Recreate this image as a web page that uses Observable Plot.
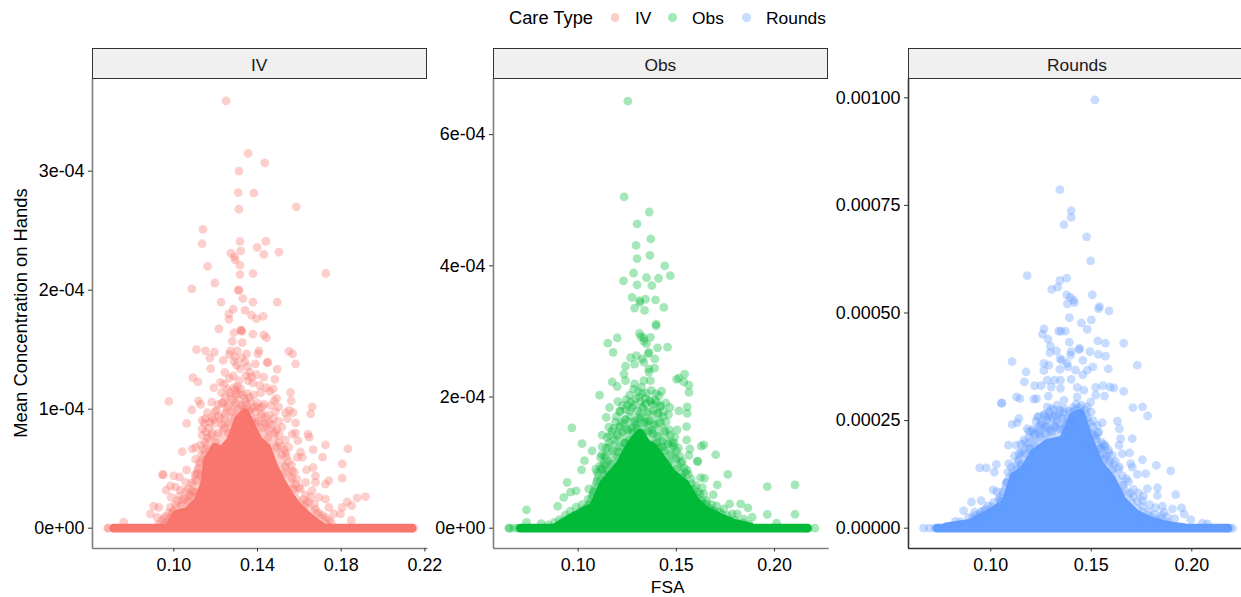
<!DOCTYPE html>
<html>
<head>
<meta charset="utf-8">
<script src="https://cdn.jsdelivr.net/npm/d3@7"></script>
<script src="https://cdn.jsdelivr.net/npm/@observablehq/plot@0.6"></script>
<style>
html,body{margin:0;padding:0;background:#fff;overflow:hidden}
#page{position:relative;width:1241px;height:597px;overflow:hidden;font-family:"Liberation Sans",Arial,sans-serif;color:#000}
#page svg{position:absolute;top:79px;overflow:visible;background:transparent;max-width:none}
.abs{position:absolute;white-space:nowrap;font-size:17.4px;line-height:20px}
.strip{position:absolute;top:48px;height:29px;background:#f0f0f0;border:1.5px solid #333;text-align:center;font-size:17.4px;line-height:33px;color:#1a1a1a;box-sizing:content-box}
.key{position:absolute;width:8.8px;height:8.8px;border-radius:50%;top:13px;opacity:.35}
</style>
</head>
<body>
<div id="page"></div>
<script>
const categories = ["IV", "Obs", "Rounds"];
const colours = ["#F8766D", "#00BA38", "#619CFF"];
const legendTitle = "Care Type";
const xLabel = "FSA";
const yLabel = "Mean Concentration on Hands";

// Concentrations below are in units of 1e-4.
const ivPoints = [[.125,3.59],[.1355,3.15],[.1435,3.07],[.1311,3.00],[.1308,2.82],[.1382,2.815],[.1311,2.68],[.1585,2.70],[.1139,2.51],[.1135,2.39],[.1316,2.41],[.144,2.41],[.1398,2.36],[.132,2.33],[.1502,2.32],[.1273,2.31],[.143,2.30],[.129,2.28],[.1293,2.255],[.1316,2.21],[.1161,2.20],[.1316,2.13],[.1378,2.14],[.1727,2.14],[.1196,2.06],[.1086,2.01],[.1308,2.0],[.1311,2.0],[.133,1.93],[.1378,1.90],[.1226,1.90],[.1494,1.90],
[.1284,1.84],[.134,1.83],[.1263,1.80],[.1263,1.755],[.1371,1.79],[.1395,1.76],[.1427,1.78],[.1215,1.675],[.1322,1.66],[.1320,1.665],[.1325,1.655],[.1287,1.64],[.1378,1.63],[.143,1.625],[.1443,1.60],[.1279,1.57],[.1327,1.56],[.1108,1.50],[.1151,1.49],[.1194,1.48],[.1271,1.49],[.1303,1.49],[.1348,1.465],[.1407,1.49],[.1402,1.465],[.155,1.485],[.1568,1.465],[.1582,1.38],[.1172,1.43],[.1236,1.41],[.1292,1.44],[.1325,1.43],[.1449,1.395],[.1446,1.39],[.139,1.38],[.1176,1.34],[.1494,1.335],[.1244,1.31],[.1363,1.31],[.1345,1.28],[.1091,1.265],[.1115,1.23],[.1191,1.18],[.1223,1.225],[.1355,1.24],[.1483,1.25],[.1430,1.27],[.1558,1.14],[.1118,1.07],[.0976,1.065],[.1128,1.04],[.1086,.995],[.1561,1.07],[.1491,1.09],[.1661,1.02],[.1654,.96],[.1552,.99],[.1570,.97],[.1542,.92],[.1061,.88],[.1135,.905],[.1147,.88],[.1135,.835],[.1135,.78],[.1582,.885],[.1566,.79],[.1582,.80],[.1593,.735],[.1641,.79],[.1647,.765],[.1725,.70],[.1666,.66],[.1711,.597],[.1832,.667],[.1805,.54],[.1606,.64],[.1614,.595],[.1534,.63],[.159,.595],[.104,.644],[.1088,.667],[.1104,.68],[.1104,.58],[.1061,.49],[.0946,.45],[.0949,.45],[.10,.44],[.1027,.43],[.1634,.49],[.1666,.51],[.1677,.44],[.1741,.40],[.1725,.37],[.1805,.42],[.163,.385],[.1677,.385],[.1566,.48],[.1582,.37],[.0963,.32],[.0984,.355],[.1008,.345],[.1032,.32],[.1056,.385],[.1072,.275],[.1876,.255],[.1916,.266],[.1829,.22],[.185,.19],[.1805,.175],[.1797,.12],[.1848,.065],[.1725,.245],[.1693,.26],[.1661,.315],[.1765,.12],[.1741,.175],[.0904,.185],[.0928,.175],[.0888,.12],[.092,.09],[.0952,.08],[.0984,.175],[.0987,.26],[.1016,.23],[.076,.05],[.0684,0],[.0688,0],[.0713,0],
[.1255,1.17],[.1287,1.18],[.1303,1.19],[.1319,1.17],[.1351,1.13],[.1383,1.12],[.1415,1.14],[.1245,1.10],[.1271,1.11],[.1297,1.12],[.1335,1.09],[.1367,1.06],[.1399,1.05],[.1431,1.04],[.1463,1.03],[.1479,1.07],[.1213,1.04],[.1229,1.05],[.1261,1.04],[.1293,1.05],[.1325,1.03],[.1357,.99],[.1389,.98],[.1421,.96],[.1453,.95],[.1485,.98],[.1197,.98],[.1181,.93],[.1213,.94],[.1245,.96],[.1277,.98],[.1165,.84],[.1197,.88],[.1229,.87],[.1261,.89],[.1293,.93],[.1373,.91],[.1405,.90],[.1437,.88],[.1469,.87],[.1501,.90],[.1533,.97],[.1517,.85],[.1485,.80],[.1453,.82],[.1421,.84],[.1149,.72],[.1181,.78],[.1213,.80],[.1245,.84],[.1501,.72],[.1533,.74],[.1549,.68],[.1517,.62],[.1133,.62],[.1149,.57],[.1117,.50],[.1101,.45],[.1085,.38],[.1069,.33],[.1053,.25],[.1037,.19],[.1533,.52],[.1565,.42],[.1597,.34],[.1629,.28],[.1645,.22],[.1677,.16],[.1709,.11],[.1741,.07],[.1021,.12],[.0989,.09],[.0957,.04],[.0925,.03],
[.1265,1.46],[.1288,1.40],[.1301,1.37],[.1317,1.34],[.1339,1.40],[.1352,1.36],[.1371,1.27],[.1378,1.22],[.1395,1.29],[.1265,1.26],[.1284,1.28],[.1311,1.24],[.1240,1.21],[.1228,1.14],[.1411,1.20],[.1442,1.18],[.1459,1.15],[.1475,1.17],[.1500,1.02],[.1181,1.06],[.1160,.97],[.1150,.92],
[.1088,.27],[.1095,.31],[.1108,.40],[.1112,.46],[.1122,.55],[.1128,.70],[.1141,.66],[.1153,.81],[.1160,.76],[.1172,.89],[.1188,.91],[.1205,.99],[.1222,.92],[.1238,1.06],[.1252,1.02],[.1268,1.14],[.1280,1.08],[.1295,1.16],[.1312,1.13],[.1328,1.12],[.1342,1.06],[.1362,1.10],[.1376,1.01],[.1392,1.02],[.1408,1.01],[.1424,1.02],[.1440,.93],[.1458,.88],[.1476,.92],[.1492,.83],[.1505,.78],[.1512,.69],[.1526,.66],[.1538,.60],[.1548,.56],[.1562,.53],[.1576,.47],[.1588,.41],[.1604,.33],[.1618,.24],[.1634,.21],[.1655,.26],[.1672,.20],[.1690,.13],[.1724,.09],[.1752,.05],[.0995,.14],[.1008,.20],[.1025,.27],[.1042,.24],[.1056,.31],[.1070,.22],[.1085,.19],[.0960,.10],[.0975,.13],[.0942,.06],[.1200,.72],[.1170,.66],[.1260,.80],[.1310,1.00],[.1340,1.00],[.1390,.88],[.1450,.76],[.1490,.68],[.1530,.46],[.1570,.33],[.1620,.15],[.1100,.30],[.1130,.44]];
const ivCore = [[.0976,0],[.1016,.115],[.1067,.134],[.112,.227],[.115,.373],[.1163,.563],[.1199,.675],[.1231,.647],[.1274,.731],[.1312,.913],[.1343,.966],[.1379,.829],[.1408,.731],[.1446,.675],[.1475,.535],[.1513,.395],[.1551,.283],[.159,.185],[.1637,.106],[.1693,.03],[.1717,0]];
const ivMid = [[.0900,0],[.0950,.05],[.0990,.17],[.1060,.26],[.1100,.50],[.1130,.62],[.1150,.74],[.1185,.85],[.1215,.80],[.1240,1.02],[.1270,1.00],[.1300,1.12],[.1330,1.05],[.1360,1.08],[.1390,.95],[.1430,.98],[.1465,.82],[.1490,.86],[.1510,.62],[.1560,.50],[.1600,.27],[.1650,.19],[.1700,.14],[.1760,.03],[.1790,0]];
const ivBand = [.0713,.2139];
const ivEnds = [.2147,.2135,.2120,.2105];

const obsPoints = [[.1253,6.51],[.1234,5.05],[.1362,4.82],[.13,4.64],[.137,4.41],[.1295,4.31],[.13,4.11],[.1365,4.16],[.1441,4.0],[.1469,3.85],[.1282,3.89],[.1348,3.82],[.1409,3.81],[.1231,3.77],[.13,3.71],[.1375,3.70],[.1275,3.52],[.1314,3.47],[.1343,3.49],[.1394,3.48],[.1287,3.355],[.1338,3.32],[.1314,3.44],[.1436,3.365],[.1397,3.11],[.1397,3.085],[.1312,2.97],[.132,2.92],[.1199,2.90],[.1151,2.82],[.1368,2.91],[.1334,2.90],[.1348,2.81],[.1334,2.85],[.1178,2.68],[.1455,2.76],[.1404,2.75],[.136,2.68],[.1357,2.66],[.1267,2.60],[.1297,2.63],[.1326,2.58],[.139,2.58],[.1287,2.50],[.1334,2.53],[.1241,2.47],[.136,2.43],[.1389,2.44],[.1233,2.35],[.136,2.38],[.1542,2.35],[.1501,2.27],[.1513,2.29],[.1538,2.23],[.1564,2.18],[.1564,2.07],[.1173,2.23],[.1199,2.16],[.1241,2.25],[.1287,2.20],[.1334,2.25],[.1368,2.25],[.1109,2.03],[.1202,1.93],[.116,1.84],[.1143,1.69],[.1513,1.79],[.1555,1.85],[.1555,1.75],[.1467,1.84],[.1552,1.55],[.0968,1.53],[.102,1.29],[.1122,1.42],[.1156,1.54],[.1504,1.50],[.1552,1.345],[.164,1.27],[.1626,1.25],[.1071,1.18],[.1122,1.24],[.1114,1.08],[.1569,1.21],[.1564,1.11],[.17,1.12],[.1032,1.03],[.1017,.89],[.1606,1.02],[.1610,1.02],[.1762,.82],[.1097,.85],[.1114,.73],[.1555,.88],[.1623,.77],[.1643,.76],[.1708,.66],[.1963,.635],[.2104,.66],[.0944,.70],[.099,.57],[.0961,.55],[.0927,.47],[.1054,.60],[.108,.55],[.0896,.335],[.0737,.28],[.0737,.09],[.0812,.07],[.1688,.51],[.1632,.62],[.164,.52],[.1771,.37],[.1742,.295],[.1827,.37],[.1864,.31],[.1784,.22],[.181,.22],[.1844,.14],[.1886,.17],[.1963,.21],[.2104,.213],[.201,.076],[.0647,0],[.0651,0],[.0674,0],[.0695,0],[.2205,0],[.2166,0],[.2172,0],
[.1282,2.12],[.1305,2.08],[.1322,2.15],[.1348,2.06],[.1372,2.10],[.1395,2.05],[.1412,2.02],[.1425,2.09],[.1262,2.03],[.1245,1.96],[.1268,1.92],[.1291,1.97],[.1318,1.93],[.1343,1.98],[.1369,1.93],[.1391,1.95],[.1420,1.87],[.1446,1.91],[.1225,1.87],[.1211,1.78],[.1243,1.81],[.1275,1.84],[.1301,1.79],[.1329,1.84],[.1355,1.77],[.1384,1.80],[.1405,1.75],[.1432,1.70],[.1460,1.73],[.1190,1.62],[.1172,1.48],[.1212,1.55],[.1239,1.66],[.1265,1.70],[.1288,1.62],[.1311,1.67],[.1337,1.60],[.1362,1.64],[.1388,1.58],[.1412,1.60],[.1442,1.48],[.1470,1.42],[.1492,1.39],[.1185,1.35],[.1158,1.30],[.1142,1.22],[.1200,1.42],[.1226,1.47],[.1252,1.50],[.1277,1.46],[.1302,1.52],[.1330,1.45],[.1356,1.48],[.1380,1.44],[.1405,1.40],[.1428,1.32],[.1458,1.29],[.1485,1.25],[.1510,1.22],[.1175,1.18],[.1150,1.02],[.1135,.97],[.1210,1.24],[.1236,1.30],[.1262,1.34],[.1385,1.28],[.1410,1.22],[.1440,1.18],[.1470,1.12],[.1500,1.06],[.1525,.99],[.1540,.92],[.1200,1.08],[.1122,.90],[.1130,.83],[.1575,.75],[.1600,.65],[.1620,.52],[.1655,.42],[.1680,.36],[.1705,.34],[.1730,.22],[.1760,.19],[.1800,.12],[.1840,.08],[.1870,.06],[.1095,.62],[.1075,.50],[.1050,.44],[.1020,.36],[.0990,.32],[.0960,.26],[.0935,.20],[.0905,.13],[.0880,.09],[.0850,.05],
[.1090,.90],[.1098,.72],[.1110,.95],[.1120,1.12],[.1135,1.10],[.1148,1.38],[.1162,1.42],[.1180,1.52],[.1195,1.70],[.1215,1.78],[.1232,1.60],[.1250,1.88],[.1262,1.78],[.1285,1.88],[.1310,2.00],[.1325,2.05],[.1345,1.90],[.1362,1.95],[.1378,1.88],[.1400,1.92],[.1418,1.85],[.1435,1.78],[.1448,1.62],[.1465,1.50],[.1478,1.30],[.1490,1.30],[.1500,1.18],[.1518,1.10],[.1530,1.02],[.1545,.85],[.1560,.82],[.1575,.68],[.1592,.60],[.1610,.55],[.1630,.42],[.1650,.38],[.1672,.30],[.1695,.26],[.1718,.25],[.1745,.15],[.1775,.12],[.1810,.08],[.1055,.36],[.1035,.30],[.1012,.26],[.0980,.20],[.0950,.15],[.0920,.10],[.1240,1.30],[.1270,1.52],[.1295,1.58],[.1320,1.70],[.1350,1.62],[.1375,1.50],[.1400,1.30],[.1430,1.24],[.1460,1.00],[.1500,.90],[.1530,.78],[.1205,1.16],[.1170,.98],[.1145,.88]];
const obsCore = [[.0893,.015],[.0978,.167],[.108,.32],[.1134,.675],[.1177,.827],[.1219,.98],[.1253,1.18],[.1287,1.335],[.1317,1.44],[.1351,1.28],[.1382,1.23],[.1433,1.03],[.148,.827],[.1545,.675],[.1596,.42],[.1647,.27],[.1715,.167],[.1793,.066],[.1878,.015]];
const obsMid = [[.0860,0],[.0940,.14],[.1040,.36],[.1085,.80],[.1120,1.05],[.1145,1.28],[.1180,1.32],[.1200,1.62],[.1240,1.72],[.1280,1.66],[.1330,1.95],[.1370,1.78],[.1420,1.82],[.1450,1.55],[.1490,1.22],[.1530,.95],[.1560,.72],[.1630,.46],[.1730,.22],[.1870,.05],[.1920,0]];
const obsBand = [.0706,.2166];

const roundsPoints = [[.1518,9.95],[.1344,7.865],[.14,7.375],[.14,7.22],[.1364,7.05],[.1477,6.77],[.1497,6.21],[.1181,5.87],[.1378,5.81],[.1344,5.76],[.1333,5.60],[.1303,5.55],[.1378,5.42],[.1396,5.365],[.1505,5.42],[.1412,5.30],[.1381,5.21],[.1416,5.24],[.1541,5.15],[.1536,5.10],[.1588,5.05],[.1391,4.89],[.1451,4.77],[.15,4.84],[.148,4.62],[.1265,4.63],[.1257,4.51],[.1338,4.58],[.1371,4.58],[.1349,4.58],[.1285,4.39],[.1391,4.32],[.1532,4.35],[.157,4.30],[.1661,4.30],[.1297,4.23],[.1294,4.08],[.1327,4.12],[.14,4.10],[.1442,4.18],[.1439,4.15],[.1493,4.10],[.1535,4.04],[.1571,4.00],[.1344,3.94],[.1355,3.90],[.1397,4.02],[.1106,3.87],[.1264,3.83],[.1289,3.79],[.138,3.83],[.1458,3.90],[.1729,3.79],[.1176,3.63],[.1264,3.66],[.1344,3.69],[.1384,3.75],[.1422,3.67],[.148,3.67],[.1508,3.75],[.1585,3.70],[.1167,3.40],[.1281,3.44],[.1317,3.44],[.1347,3.44],[.14,3.46],[.1458,3.56],[.1218,3.31],[.1251,3.31],[.1301,3.28],[.1522,3.27],[.1558,3.31],[.1593,3.28],[.1613,3.26],[.1661,3.18],[.1347,3.25],[.143,3.27],[.1463,3.21],[.1128,3.05],[.1145,3.01],[.1056,2.91],[.1053,2.90],[.1214,3.00],[.1228,3.01],[.1286,3.07],[.1566,3.07],[.1522,3.09],[.1364,2.97],[.143,3.05],[.1707,2.80],[.1755,2.82],[.178,2.61],[.1281,2.82],[.1331,2.86],[.148,2.82],[.1497,2.93],[.114,2.55],[.1131,2.45],[.1106,2.41],[.1181,2.31],[.163,2.49],[.164,2.31],[.1555,2.45],[.1538,2.24],[.1704,2.08],[.1646,2.08],[.1638,1.93],[.1088,1.93],[.1128,1.93],[.1566,1.89],[.114,1.73],[.1151,1.77],[.1605,1.69],[.1654,1.73],[.1691,1.75],[.1754,1.59],[.1824,1.46],[.1895,1.33],[.0945,1.40],[.0978,1.40],[.1018,1.30],[.1028,1.48],[.109,1.50],[.1696,1.50],[.1704,1.42],[.1729,1.25],[.1771,1.27],[.1829,.94],[.1829,.76],[.192,.78],[.1012,.89],[.1081,1.07],[.104,.66],[.0904,.61],[.0952,.64],[.0865,.41],[.0919,.37],[.0965,.41],[.1754,.64],[.1854,.51],[.1904,.45],[.1949,.47],[.1962,.33],[.1995,.20],[.2053,.12],[.2078,.10],[.0824,.16],[.1779,.92],[.1862,.37],[.0666,0],[.0695,0],[.0722,0],[.2203,0],[.2178,0],[.2190,0],
[.1265,2.62],[.1290,2.70],[.1315,2.75],[.1340,2.66],[.1365,2.78],[.1390,2.72],[.1410,2.80],[.1440,2.80],[.1470,2.75],[.1500,2.70],[.1240,2.60],[.1225,2.48],[.1255,2.46],[.1280,2.52],[.1305,2.58],[.1330,2.48],[.1355,2.55],[.1380,2.42],[.1405,2.56],[.1480,2.55],[.1510,2.50],[.1530,2.38],[.1205,2.25],[.1190,2.12],[.1165,2.05],[.1220,2.18],[.1245,2.30],[.1270,2.35],[.1295,2.28],[.1320,2.35],[.1345,2.30],[.1370,2.38],[.1395,2.44],[.1505,2.20],[.1525,2.08],[.1550,2.00],[.1570,1.92],[.1585,1.82],[.1610,1.50],[.1635,1.38],[.1655,1.22],[.1685,1.08],[.1710,.90],[.1735,.82],[.1760,.75],[.1790,.55],[.1820,.48],[.1850,.30],[.1880,.26],[.1915,.22],[.1150,1.45],[.1130,1.38],[.1115,1.22],[.1100,.95],[.1060,.85],[.1045,.72],[.1015,.60],[.0985,.52],[.0950,.38],[.0925,.30],[.0890,.25],[.0850,.15],[.1195,1.85],[.1170,1.72],[.1215,1.98],[.1245,2.12],[.1275,2.18],[.1305,2.24],[.1535,1.85],[.1565,1.60],[.1590,1.55],
[.1075,1.05],[.1085,1.30],[.1102,1.42],[.1118,1.68],[.1135,1.58],[.1150,1.95],[.1172,1.98],[.1190,2.25],[.1210,2.30],[.1232,2.58],[.1248,2.40],[.1268,2.65],[.1285,2.60],[.1302,2.78],[.1322,2.62],[.1345,2.74],[.1362,2.70],[.1385,2.55],[.1408,2.70],[.1425,2.88],[.1452,2.86],[.1475,2.65],[.1492,2.45],[.1508,2.35],[.1518,2.15],[.1532,2.20],[.1548,1.85],[.1560,1.95],[.1575,1.68],[.1588,1.75],[.1602,1.35],[.1620,1.55],[.1640,1.42],[.1660,1.00],[.1675,1.15],[.1692,.82],[.1710,.72],[.1730,.62],[.1755,.50],[.1785,.38],[.1815,.32],[.1845,.22],[.1880,.14],[.1030,.85],[.1050,.62],[.1005,.50],[.0975,.45],[.0945,.32],[.0910,.24],[.1240,2.20],[.1280,2.35],[.1320,2.40],[.1360,2.30],[.1400,2.52],[.1500,1.95],[.1545,1.70],[.1600,1.15],[.1650,.82],[.1190,1.85],[.1150,1.50],[.1110,1.20]];
const roundsCore = [[.0782,.02],[.0899,.10],[.0998,.334],[.1076,.567],[.112,1.19],[.1168,1.34],[.1218,1.73],[.1284,1.96],[.1364,2.04],[.1414,2.585],[.1447,2.66],[.1485,2.12],[.154,1.5],[.1605,1.11],[.1654,.644],[.1721,.334],[.1787,.18],[.187,.06],[.1962,0]];
const roundsMid = [[.0860,0],[.0925,.30],[.1030,.56],[.1068,1.12],[.1120,1.55],[.1160,1.90],[.1190,2.10],[.1230,2.45],[.1270,2.50],[.1310,2.68],[.1360,2.62],[.1420,2.85],[.1465,2.78],[.1500,2.35],[.1540,2.10],[.1590,1.65],[.1640,1.25],[.1690,.90],[.1730,.55],[.1860,.20],[.1960,.07],[.2000,0]];
const roundsBand = [.0733,.2178];

const xTicks = [[.10,.14,.18,.22],[.10,.15,.20],[.10,.15,.20]];
const yTicks = [[0,1e-4,2e-4,3e-4],[0,2e-4,4e-4,6e-4],[0,.00025,.0005,.00075,.001]];
const yTickLabels = [["0e+00","1e-04","2e-04","3e-04"],["0e+00","2e-04","4e-04","6e-04"],["0.00000","0.00025","0.00050","0.00075","0.00100"]];
const pointSets = [ivPoints, obsPoints, roundsPoints];
const coreSets = [ivCore, obsCore, roundsCore];
const midSets = [ivMid, obsMid, roundsMid];
const bandSets = [ivBand, obsBand, roundsBand];
const xDomains = [[.0611,.2215],[.0569,.2278],[.0591,.2277]];
const yDomains = [[-.1706e-4,3.77e-4],[-.309e-4,6.84e-4],[-.4717e-4,10.425e-4]];
const panelLeft = [92,493,908];
const panelRight = [427.5,828.7,1247];
const axisGrey = ["#7f7f7f","#7f7f7f","#333333"];

const page = document.getElementById("page");
const FONT = 17.9;
const DOT_R = 4.4;

categories.forEach((name, i) => {
  const toRow = ([x, y]) => ({x, y: y * 1e-4});
  const pts = pointSets[i].map(toRow);
  const core = coreSets[i].map(toRow);
  const mid = midSets[i].map(toRow);
  const band = bandSets[i].map(x => ({x, y: 0}));
  const labels = new Map(yTicks[i].map((t, k) => [t, yTickLabels[i][k]]));
  const chart = Plot.plot({
    width: panelRight[i],
    height: 518,
    marginLeft: panelLeft[i],
    marginRight: 0,
    marginTop: 0,
    marginBottom: 49,
    style: {fontFamily: '"Liberation Sans",Arial,sans-serif', fontSize: FONT + "px", color: "#000", background: "transparent"},
    x: {domain: xDomains[i], label: null},
    y: {domain: yDomains[i], label: null},
    marks: [
      Plot.areaY(mid, {x: "x", y: "y", fill: colours[i], opacity: .35}),
      Plot.areaY(core, {x: "x", y: "y", fill: colours[i], stroke: colours[i], strokeWidth: 2 * DOT_R, strokeLinejoin: "round"}),
      Plot.line(band, {x: "x", y: "y", stroke: colours[i], strokeWidth: 2 * DOT_R, strokeLinecap: "round"}),
      Plot.dot(pts, {x: "x", y: "y", r: DOT_R, fill: colours[i], fillOpacity: .35, stroke: "none"}),
      ...(i === 0 ? [Plot.dot(ivEnds.map(x => ({x, y: 0})), {x: "x", y: "y", r: DOT_R, fill: colours[i], fillOpacity: .35})] : []),
      Plot.ruleX([xDomains[i][0]], {stroke: axisGrey[i], strokeWidth: 1.6}),
      Plot.ruleY([yDomains[i][0]], {stroke: axisGrey[i], strokeWidth: 1.6}),
      Plot.axisX({ticks: xTicks[i], tickFormat: d => d.toFixed(2), tickSize: 3.5, tickPadding: 6, fontSize: FONT, stroke: "#333", fill: "#000", label: null}),
      Plot.axisY({ticks: yTicks[i], tickFormat: d => labels.get(d), tickSize: 4, tickPadding: 4, fontSize: FONT, stroke: "#333", fill: "#000", label: null})
    ]
  });
  chart.style.left = "0px";
  page.appendChild(chart);

  const strip = document.createElement("div");
  strip.className = "strip";
  strip.style.left = panelLeft[i] - .5 + "px";
  strip.style.width = panelRight[i] - panelLeft[i] - 2 + "px";
  strip.textContent = name;
  page.appendChild(strip);
});

function addText(text, left, top, extra) {
  const el = document.createElement("div");
  el.className = "abs";
  el.textContent = text;
  el.style.left = left + "px";
  el.style.top = top + "px";
  if (extra) Object.assign(el.style, extra);
  page.appendChild(el);
  return el;
}
addText(legendTitle, 509, 8, {fontSize: "18.3px"});
const keyDot = [615, 672.7, 746.7];
const keyText = [635, 692, 766];
categories.forEach((name, i) => {
  addText(name, keyText[i], 8);
  const k = document.createElement("div");
  k.className = "key";
  k.style.left = keyDot[i] - 4.4 + "px";
  k.style.background = colours[i];
  page.appendChild(k);
});
addText(xLabel, 667.7, 577, {transform: "translateX(-50%)"});
addText(yLabel, 21, 313, {fontSize: "18.4px", transform: "translate(-50%,-50%) rotate(-90deg)"});
</script>
</body>
</html>
